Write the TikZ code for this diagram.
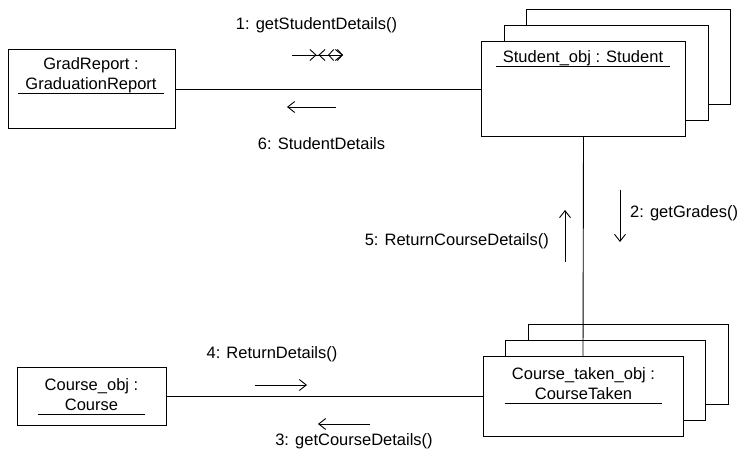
\documentclass[tikz,border=0pt]{standalone}
\usepackage{fontspec}
\setmainfont{Liberation Sans}
\usetikzlibrary{arrows.meta, positioning, calc}

\begin{document}
\begin{tikzpicture}[
  x=1pt, y=-1pt,
  font=\fontsize{16.5}{20}\selectfont,
  oggetto/.style={draw=black, fill=white, line width=0.9pt, inner sep=0pt},
  nome/.style={align=center, inner xsep=7pt, inner ysep=0pt, text depth=3.5pt},
  sottolinea/.style={draw=black, line width=0.9pt},
  legame/.style={draw=black, line width=0.9pt},
  freccia/.style={draw=black, line width=0.9pt, -{Straight Barb[length=7pt,width=11pt]}},
  messaggio/.style={inner sep=0pt}
]
\useasboundingbox (0,0) rectangle (741,454);

% oggetti multipli (copie dietro)
\foreach \n/\cx/\cy/\w/\h in {stud/583.5/89/204/95, preso/583/396.5/200/80} {
  \foreach \k in {2,1}
    \node[oggetto, minimum width=\w, minimum height=\h] (\n\k) at (\cx+22.5*\k, \cy-16*\k) {};
}

\node[oggetto, minimum width=167, minimum height=79] (grad) at (91.5,89) {};
\node[oggetto, minimum width=204, minimum height=95] (stud) at (583.5,89) {};
\node[oggetto, minimum width=149, minimum height=58] (corso) at (91.5,396.5) {};
\node[oggetto, minimum width=200, minimum height=80] (preso) at (583,396.5) {};

% nomi sottolineati
\node[nome, anchor=south] (gradnome) at (91,93.5) {GradReport :\\GraduationReport};
\node[nome, anchor=south] (studnome) at (583,66.5) {Student\_obj : Student};
\node[nome, anchor=south] (corsonome) at (91.5,414) {Course\_obj :\\Course};
\node[nome, anchor=south] (presonome) at (583.5,403) {Course\_taken\_obj :\\CourseTaken};
\foreach \t in {gradnome, studnome, corsonome, presonome}
  \draw[sottolinea] (\t.south west) -- (\t.south east);

% collegamenti
\draw[legame] (grad.east) -- (stud.west);
\draw[legame] (corso.east) -- (preso.west);
\draw[legame] (stud.south) -- (preso.north);

% messaggi
\node[messaggio, anchor=base] (m1) at (316.5,30) {1: getStudentDetails()};
\node[messaggio, anchor=base west] (m2) at (630,218) {2: getGrades()};
\node[messaggio, anchor=base] (m3) at (354,445) {3: getCourseDetails()};
\node[messaggio, anchor=base] (m4) at (272,358) {4: ReturnDetails()};
\node[messaggio, anchor=base east] (m5) at (549,246) {5: ReturnCourseDetails()};
\node[messaggio, anchor=base] (m6) at (321.5,150) {6: StudentDetails};

\draw[freccia] ([shift={(-24.5,25)}]m1.base) -- ++(51,0);
\draw[line width=0.9pt, {Straight Barb[reversed,length=6pt,width=11pt]}-{Straight Barb[reversed,length=6pt,width=11pt]}]
  ([shift={(-7,25)}]m1.base) -- ([shift={(9,25)}]m1.base);
\draw[line width=0.9pt, {Straight Barb[length=5pt,width=11pt]}-{Straight Barb[length=5pt,width=11pt]}]
  ([shift={(11.5,25)}]m1.base) -- ([shift={(26.5,25)}]m1.base);
\draw[freccia] ([shift={(-10,-28)}]m2.base west) -- ++(0,52);
\draw[freccia] ([shift={(16,-21)}]m3.base) -- ++(-52,0);
\draw[freccia] ([shift={(-17,27)}]m4.base) -- ++(52,0);
\draw[freccia] ([shift={(16,16)}]m5.base east) -- ++(0,-52);
\draw[freccia] ([shift={(14.5,-43)}]m6.base) -- ++(-49,0);

\end{tikzpicture}
\end{document}
